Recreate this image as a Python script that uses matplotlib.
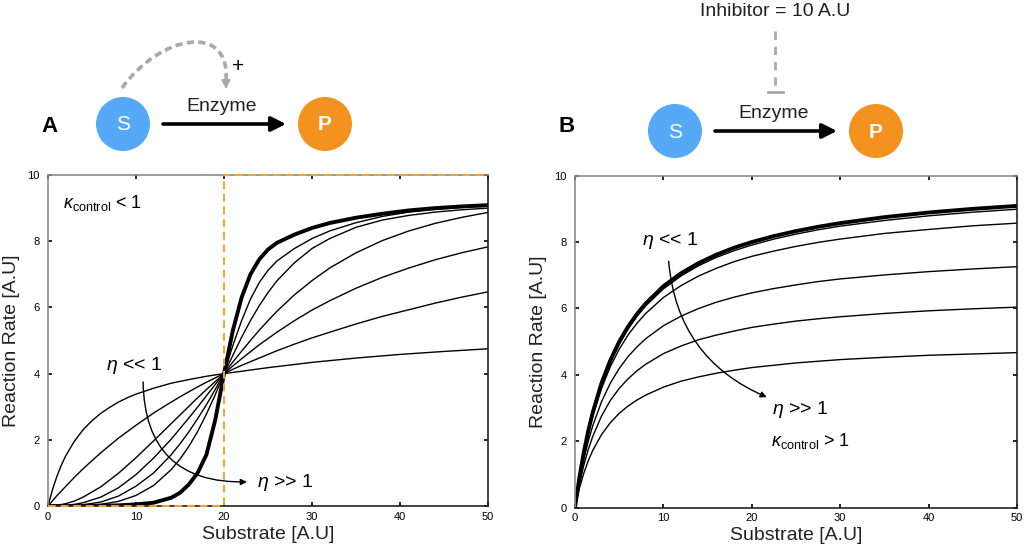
import numpy as np
import matplotlib
matplotlib.use("Agg")
import matplotlib.pyplot as plt
from matplotlib.patches import Circle, PathPatch
from matplotlib.path import Path

plt.rcParams["font.family"] = ["Liberation Sans", "DejaVu Sans"]
plt.rcParams["mathtext.fontset"] = "custom"
plt.rcParams["mathtext.rm"] = "Liberation Sans"
plt.rcParams["mathtext.it"] = "Liberation Sans:italic"

# panel A: substrate activation, all curves cross at (20, 4)
xA = [0, 1, 2, 3, 4, 6, 8, 10, 12, 14, 15, 16, 17, 18, 19, 20, 21, 22, 23, 24, 25, 26,
      28, 30, 32, 35, 38, 41, 44, 47, 50]
A_thick = [0, 0, 0, 0, 0, 0.01, 0.02, 0.05, 0.1, 0.25, 0.4, 0.65, 1.0, 1.55, 2.6, 4.0,
           5.3, 6.3, 7.0, 7.45, 7.75, 7.95, 8.2, 8.4, 8.55, 8.71, 8.83, 8.93, 9.0, 9.05, 9.09]
A_c2 = [0, 0, 0, 0, 0.02, 0.05, 0.14, 0.32, 0.62, 1.1, 1.42, 1.8, 2.25, 2.78, 3.36, 4.0,
        4.85, 5.6, 6.25, 6.75, 7.12, 7.4, 7.78, 8.08, 8.31, 8.56, 8.75, 8.88, 8.96, 9.02, 9.06]
A_c3 = [0, 0, 0.01, 0.02, 0.04, 0.12, 0.3, 0.6, 1.0, 1.55, 1.88, 2.24, 2.64, 3.06, 3.52, 4.0,
        4.55, 5.1, 5.6, 6.05, 6.45, 6.8, 7.35, 7.78, 8.08, 8.42, 8.64, 8.78, 8.88, 8.95, 9.0]
A_c4 = [0, 0, 0.02, 0.05, 0.1, 0.27, 0.55, 0.95, 1.45, 2.02, 2.34, 2.66, 2.99, 3.33, 3.67, 4.0,
        4.35, 4.68, 5.0, 5.31, 5.60, 5.88, 6.38, 6.81, 7.19, 7.65, 8.02, 8.31, 8.54, 8.72, 8.87]
A_c5 = [0, 0.02, 0.07, 0.15, 0.27, 0.58, 0.99, 1.46, 1.97, 2.49, 2.75, 3.01, 3.27, 3.52, 3.76,
        4.0, 4.23, 4.45, 4.66, 4.87, 5.06, 5.25, 5.60, 5.92, 6.20, 6.58, 6.91, 7.19, 7.44, 7.65, 7.83]
A_c6 = [0, 0.31, 0.59, 0.87, 1.13, 1.61, 2.05, 2.44, 2.81, 3.14, 3.30, 3.45, 3.60, 3.74, 3.87,
        4.0, 4.13, 4.25, 4.36, 4.47, 4.58, 4.69, 4.89, 5.08, 5.25, 5.50, 5.73, 5.93, 6.13, 6.31, 6.47]
A_thin = [A_c2, A_c3, A_c4, A_c5, A_c6]
# the strongly concave curve (eta << 1) needs a finer grid near the origin
xA7 = [0, 0.5, 1, 1.5, 2, 3, 4, 5, 6, 7, 8, 9, 10, 12, 14, 16, 18, 20, 25, 30, 35, 40,
       45, 50]
A_c7 = [0, 0.49, 0.89, 1.23, 1.51, 1.96, 2.31, 2.58, 2.8, 2.98, 3.14, 3.27, 3.38, 3.56,
        3.71, 3.82, 3.92, 4.0, 4.18, 4.34, 4.47, 4.58, 4.67, 4.75]
# orange dashed guide (switch at substrate = 20)
guide_x = [0, 20, 20, 50]
guide_y = [0, 0, 10, 10]

# panel B: with inhibitor = 10 A.U
xB = [0, 0.5, 1, 1.5, 2, 3, 4, 5, 6, 7, 8, 10, 12, 14, 16, 18, 20, 22.5, 25, 27.5,
      30, 35, 40, 45, 50]
B_thick = [0, 0.91, 1.67, 2.31, 2.86, 3.75, 4.44, 5.0, 5.45, 5.83, 6.15, 6.67, 7.06, 7.37,
           7.62, 7.83, 8.0, 8.18, 8.33, 8.46, 8.57, 8.75, 8.89, 9.0, 9.09]
B_c2 = [0, 0.88, 1.62, 2.25, 2.79, 3.68, 4.37, 4.92, 5.38, 5.76, 6.08, 6.59, 6.98, 7.29,
        7.54, 7.74, 7.91, 8.09, 8.24, 8.37, 8.48, 8.65, 8.79, 8.90, 8.99]
B_c3 = [0, 0.88, 1.61, 2.22, 2.75, 3.59, 4.25, 4.77, 5.20, 5.55, 5.85, 6.33, 6.69, 6.98,
        7.21, 7.41, 7.57, 7.73, 7.87, 7.99, 8.09, 8.26, 8.38, 8.49, 8.57]
B_c4 = [0, 0.80, 1.46, 2.00, 2.46, 3.19, 3.75, 4.19, 4.55, 4.84, 5.09, 5.48, 5.77, 6.00,
        6.19, 6.34, 6.47, 6.60, 6.71, 6.81, 6.89, 7.01, 7.11, 7.19, 7.26]
B_c5 = [0, 0.71, 1.28, 1.75, 2.14, 2.76, 3.23, 3.59, 3.88, 4.12, 4.32, 4.64, 4.87, 5.06,
        5.20, 5.32, 5.43, 5.53, 5.62, 5.69, 5.75, 5.85, 5.93, 5.99, 6.04]
B_c6 = [0, 0.58, 1.04, 1.41, 1.72, 2.20, 2.56, 2.84, 3.06, 3.24, 3.39, 3.63, 3.81, 3.94,
        4.05, 4.14, 4.22, 4.29, 4.36, 4.41, 4.46, 4.53, 4.59, 4.63, 4.67]
B_thin = [B_c2, B_c3, B_c4, B_c5, B_c6]

xticks = [0, 10, 20, 30, 40, 50]
yticks = [0, 2, 4, 6, 8, 10]

blue = "#55a9f7"
orange = "#f3921f"
grey = "#a9a9a9"

fig = plt.figure(figsize=(10.24, 5.54), dpi=100)

# reaction scheme drawn in pixel coordinates
ax_d = fig.add_axes([0, 0, 1, 1])
ax_d.set_xlim(0, 1024)
ax_d.set_ylim(554, 0)
ax_d.axis("off")


def scheme(ax, sx, px, y):
    ax.add_patch(Circle((sx, y), 27, color=blue, lw=0))
    ax.add_patch(Circle((px, y), 27, color=orange, lw=0))
    ax.text(sx, y + 1, "S", color="white", fontsize=15, ha="center", va="center")
    ax.text(px, y + 1, "P", color="white", fontsize=15, fontweight="bold",
            ha="center", va="center")
    ax.annotate("", xy=(px - 39, y), xytext=(sx + 40, y),
                arrowprops=dict(arrowstyle="-|>", lw=2.6, color="black",
                                mutation_scale=22, shrinkA=0, shrinkB=0))
    ax.text((sx + px) / 2 - 2, y - 9, "Enzyme", fontsize=14, color="#222222",
            ha="center", va="bottom")


scheme(ax_d, 123, 325, 124)
scheme(ax_d, 675, 876, 131)
ax_d.text(50, 127, "A", fontsize=16, fontweight="bold", ha="center", va="center")
ax_d.text(567, 127, "B", fontsize=16, fontweight="bold", ha="center", va="center")

# dashed activation arrow from S onto the enzyme
verts = [(122, 88), (160, 35), (230, 22), (226, 80)]
codes = [Path.MOVETO, Path.CURVE4, Path.CURVE4, Path.CURVE4]
ax_d.add_patch(PathPatch(Path(verts, codes), fill=False, ls=(0, (2, 1.2)),
                         lw=2.6, ec=grey))
ax_d.annotate("", xy=(226, 89), xytext=(226, 80),
              arrowprops=dict(arrowstyle="-|>", lw=1, color=grey,
                              mutation_scale=14, shrinkA=0, shrinkB=0))
ax_d.text(238, 66, "+", fontsize=15, ha="center", va="center")

# inhibitor
ax_d.text(775, 12, "Inhibitor = 10 A.U", fontsize=14, color="#222222",
          ha="center", va="center")
ax_d.plot([775, 775], [31, 89], ls=(0, (3, 2.5)), lw=2, color=grey)
ax_d.plot([768, 783], [92, 92], lw=2, color=grey)


def style(ax):
    ax.set_xlim(0, 50)
    ax.set_ylim(0, 10)
    ax.set_xticks(xticks)
    ax.set_yticks(yticks)
    ax.tick_params(direction="in", top=True, right=True, length=3, width=1.2,
                   labelsize=8, pad=4)
    ax.tick_params(axis="y", pad=6)
    for s in ["left", "top"]:
        ax.spines[s].set_color("#8a8a8a")
    for s in ["bottom", "right"]:
        ax.spines[s].set_color("#222222")
    for s in ax.spines.values():
        s.set_linewidth(1.2)
    ax.set_xlabel("Substrate [A.U]", fontsize=14, color="#222222", labelpad=3)
    ax.set_ylabel("Reaction Rate [A.U]", fontsize=14, color="#222222", labelpad=5)


axA = fig.add_axes([0.0469, 0.0866, 0.4297, 0.5975])
axB = fig.add_axes([0.5615, 0.0836, 0.4316, 0.5993])

for ys in A_thin:
    axA.plot(xA, ys, color="black", lw=1.0)
axA.plot(xA7, A_c7, color="black", lw=1.0)
axA.plot(xA, A_thick, color="black", lw=2.8)
axA.plot(guide_x, guide_y, color="#f5a623", lw=1.4, ls=(0, (4, 2.5)),
         clip_on=False, zorder=3)
style(axA)
axA.text(1.7, 9.15, r"$\kappa_{\rm control}$ < 1", fontsize=13, va="center")
axA.text(6.6, 4.25, r"$\eta$ << 1", fontsize=14, va="center")
axA.text(23.8, 0.72, r"$\eta$ >> 1", fontsize=14, va="center")
axA.annotate("", xy=(22.6, 0.73), xytext=(10.8, 3.75),
             arrowprops=dict(arrowstyle="-|>", lw=1, color="black",
                             mutation_scale=9, shrinkA=0, shrinkB=0,
                             connectionstyle="arc3,rad=0.5"))

for ys in B_thin:
    axB.plot(xB, ys, color="black", lw=1.0)
axB.plot(xB, B_thick, color="black", lw=2.8)
style(axB)
axB.text(7.6, 8.05, r"$\eta$ << 1", fontsize=14, va="center")
axB.text(22.3, 2.95, r"$\eta$ >> 1", fontsize=14, va="center")
axB.text(22.2, 2.0, r"$\kappa_{\rm control}$ > 1", fontsize=13, va="center")
axB.annotate("", xy=(21.7, 3.33), xytext=(10.6, 7.42),
             arrowprops=dict(arrowstyle="-|>", lw=1, color="black",
                             mutation_scale=9, shrinkA=0, shrinkB=0,
                             connectionstyle="arc3,rad=0.3"))

fig.savefig("out.png", dpi=100)
